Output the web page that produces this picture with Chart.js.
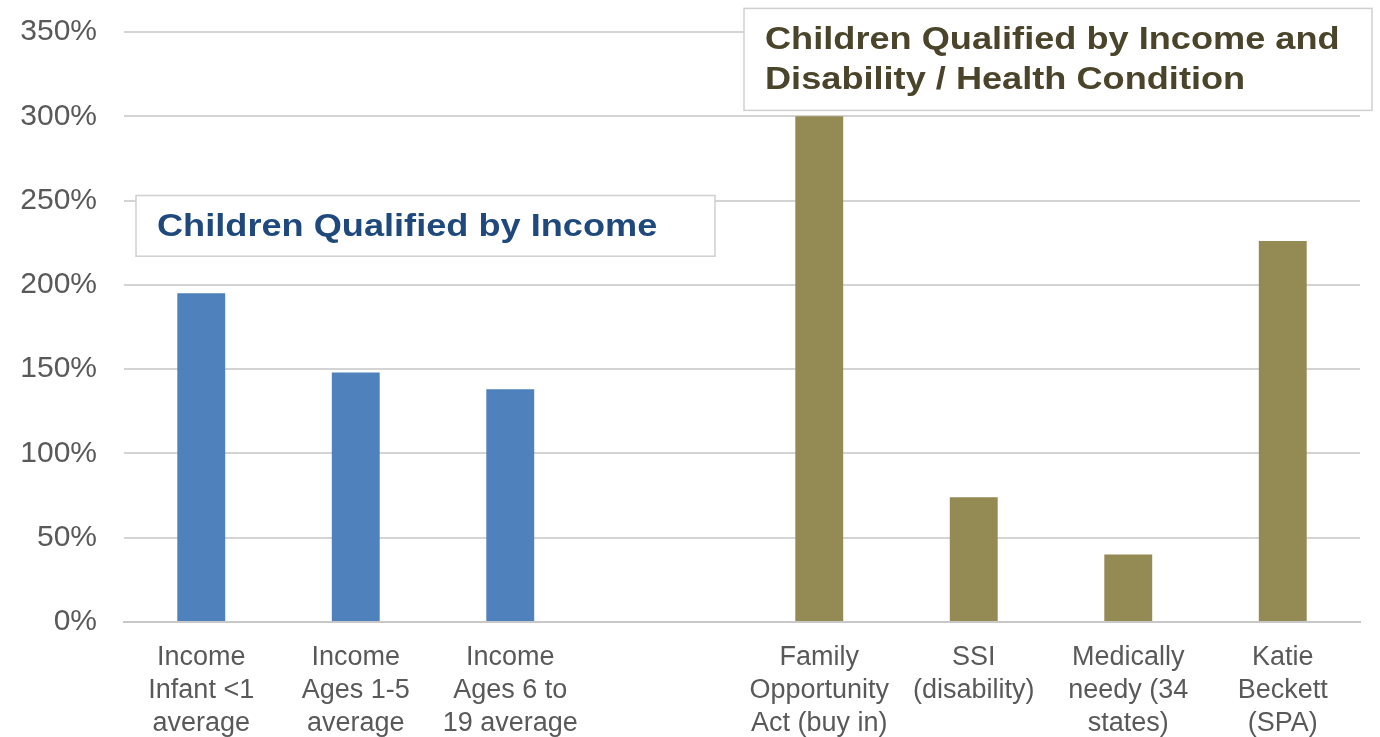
<!DOCTYPE html>
<html>
<head>
<meta charset="utf-8">
<style>
  html, body { margin: 0; padding: 0; background: #fff; }
  #wrap { width: 1380px; height: 737px; }
</style>
</head>
<body>
<div id="wrap"><canvas id="eligChart" width="1380" height="737"></canvas></div>
<script src="https://cdn.jsdelivr.net/npm/chart.js"></script>
<script>
// categories (empty slot separates the two groups)
let categories = [
    ['Income', 'Infant <1', 'average'],
    ['Income', 'Ages 1-5', 'average'],
    ['Income', 'Ages 6 to', '19 average'],
    '',
    ['Family', 'Opportunity', 'Act (buy in)'],
    ['SSI', '(disability)'],
    ['Medically', 'needy (34', 'states)'],
    ['Katie', 'Beckett', '(SPA)']
];
// % of federal poverty level
let values = [195, 148, 138, null, 300, 74, 40, 226];
let barColors = ['#4F81BD', '#4F81BD', '#4F81BD', '#4F81BD', '#948A54', '#948A54', '#948A54', '#948A54'];
let yTicks = [0, 50, 100, 150, 200, 250, 300, 350];

let incomeTitle = ['Children Qualified by Income'];
let disabilityTitle = ['Children Qualified by Income and', 'Disability / Health Condition'];

const FONT = 'Arial, "Liberation Sans", sans-serif';

// draws the two caption boxes on top of the grid
const captionBoxes = {
    id: 'captionBoxes',
    afterDraw(chart) {
        let c = chart.ctx;
        let y = chart.scales.y;
        let area = chart.chartArea;
        let boxes = [
            { x0: area.left + 12, x1: area.left + 591, top: y.getPixelForValue(253), bottom: y.getPixelForValue(217),
              lines: incomeTitle, color: '#1F497D', tx: area.left + 33 },
            { x0: area.left + 620, x1: area.left + 1248, top: y.getPixelForValue(364), bottom: y.getPixelForValue(303.5),
              lines: disabilityTitle, color: '#4A452A', tx: area.left + 641 }
        ];
        c.save();
        boxes.forEach(b => {
            c.fillStyle = '#ffffff';
            c.fillRect(b.x0, b.top, b.x1 - b.x0, b.bottom - b.top);
            c.strokeStyle = '#cfcfcf';
            c.lineWidth = 1.5;
            c.strokeRect(b.x0, b.top, b.x1 - b.x0, b.bottom - b.top);
            c.fillStyle = b.color;
            c.font = 'bold 32px ' + FONT;
            c.textBaseline = 'middle';
            c.textAlign = 'left';
            let mid = (b.top + b.bottom) / 2 + 1;
            let lh = 40;
            let start = mid - (b.lines.length - 1) * lh / 2;
            b.lines.forEach((t, i) => {
                // the source text is a little wide, stretch horizontally
                c.save();
                c.translate(b.tx, start + i * lh);
                c.scale(1.13, 1);
                c.fillText(t, 0, 0);
                c.restore();
            });
        });
        c.restore();
    }
};

let ctx = document.getElementById('eligChart').getContext('2d');
let chart = new Chart(ctx, {
    type: 'bar',
    data: {
        labels: categories,
        datasets: [{
            data: values,
            backgroundColor: barColors,
            barPercentage: 0.31,
            categoryPercentage: 1.0
        }]
    },
    options: {
        animation: false,
        responsive: false,
        layout: { padding: { left: 18, right: 20, top: 0, bottom: 0 } },
        plugins: {
            legend: { display: false },
            tooltip: { enabled: false }
        },
        scales: {
            x: {
                grid: { display: false, drawTicks: false },
                border: { display: true, color: '#c8c8c8', width: 2 },
                afterFit: axis => { axis.height = 115; },
                ticks: {
                    color: '#595959',
                    font: { family: FONT, size: 27, lineHeight: 1.222 },
                    padding: 19,
                    autoSkip: false,
                    maxRotation: 0
                }
            },
            y: {
                min: 0,
                max: 350,
                afterBuildTicks: axis => { axis.ticks = yTicks.map(v => ({ value: v })); },
                afterFit: axis => { axis.width = 106; axis.paddingTop = 32; },
                grid: { color: '#d4d4d4', lineWidth: 2, drawTicks: false },
                border: { display: false },
                ticks: {
                    color: '#595959',
                    font: { family: FONT, size: 30, lineHeight: 1 },
                    padding: 27,
                    callback: v => v + '%'
                }
            }
        }
    },
    plugins: [captionBoxes]
});
</script>
</body>
</html>
